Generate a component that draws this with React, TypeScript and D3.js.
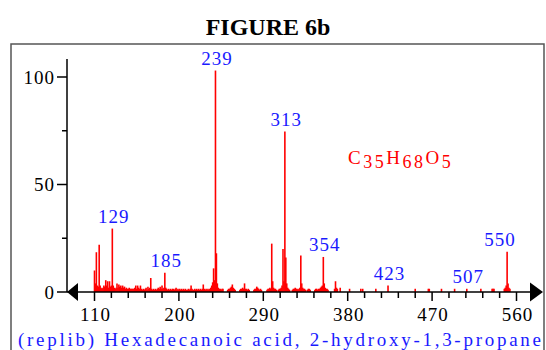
import React from "react";
import * as d3 from "d3";

const peakMz: number[] = [
  110, 111, 112, 113, 114, 115, 116, 117, 118, 119, 120, 121, 122, 123, 124, 125, 126, 127, 128, 129, 130, 131, 132,
  133, 134, 135, 136, 137, 138, 139, 140, 141, 142, 143, 144, 145, 146, 147, 148, 149, 150, 151, 152, 153, 154, 155, 156, 157, 158, 159, 160,
  161, 162, 163, 164, 165, 166, 167, 168, 169, 170, 171, 172, 173, 174, 175, 176, 177, 178, 179, 180, 181, 182, 183, 184, 185, 186, 187, 188, 189, 190, 191, 192, 193, 194, 195, 196, 197, 198, 199, 200,
  201, 202, 203, 204, 205, 206, 207, 208, 209, 210, 211, 212, 213, 214, 215, 216, 217, 218, 219, 220, 221, 222, 223, 224, 225, 226, 227, 228, 229, 230, 231, 232, 233, 234, 235, 236, 237, 238, 239, 240, 241, 242, 243, 244, 245, 246,
  247, 252, 253, 254, 255, 256, 257, 258, 259, 260, 265, 266, 267, 268, 269, 270, 271, 272, 273, 274, 275, 280, 281, 282, 283, 284, 285, 286, 287, 288,
  294, 295, 296, 297, 298, 299, 300, 301, 302, 303, 304, 306, 307, 308, 309, 310, 311, 312, 313, 314, 315, 316, 317, 318,
  321, 322, 323, 324, 325, 326, 327, 328, 329, 330, 331, 332, 333, 334, 335, 337, 338, 339, 340,
  345, 346, 347, 348, 349, 350, 351, 352, 353, 354, 355, 356, 357, 358, 359, 366, 367, 368, 369, 372,
  382, 394, 396, 410, 423, 452, 466, 467, 480, 494, 507, 522, 534, 535, 536, 547, 548, 549, 550, 551, 552, 553,
];

const peakIntensity: number[] = [
  10, 4, 18.5, 3, 2.5, 22, 3, 2, 1.5, 2, 3, 2.5, 5.5, 3, 5, 2, 5, 2.5, 3, 29.5, 3, 2, 1.5,
  2, 4, 2, 3.5, 2.5, 3, 2, 3, 2, 2.5, 1.5, 2, 1.5, 1.5, 2, 1.5, 1.5, 1.5, 1.5, 1.5, 2, 3, 1.5, 3, 2, 1.5, 3, 1.5,
  1, 1.5, 1, 1.5, 2, 1, 2.5, 1.5, 2, 6.5, 1.5, 1, 1.5, 1, 1.5, 1, 1.5, 2, 1.5, 2.5, 1.5, 3, 1.5, 2, 9, 2, 1.5, 1, 1.5, 1, 1.5, 1, 1.5, 1.5, 1, 1.5, 2, 1, 1.5, 1,
  1.5, 1, 1.5, 1, 1.5, 1, 1.5, 1, 1, 1.5, 1, 1.5, 3, 1.5, 1, 1, 1.5, 1, 1.5, 1, 1.5, 1, 1.5, 1, 1.5, 3.5, 1.5, 1, 1.5, 1, 1.5, 1, 1.5, 2, 3, 4.5, 11, 5.5, 103, 18, 4, 2, 1.5, 1.5, 1, 1.5,
  1.5, 1, 1.5, 1.5, 2, 2.5, 3.5, 2, 1.5, 1, 1, 1.5, 1.5, 2, 1.5, 4, 1.5, 1.5, 1, 1.5, 1, 1, 1.5, 1.5, 2.5, 2, 1.5, 1, 1.5, 1,
  1, 1.5, 1.5, 2, 1.5, 22.5, 5, 2, 1.5, 1.5, 1, 1, 1.5, 1.5, 2, 3, 20, 5, 74.6, 16, 4, 2, 1.5, 1,
  1, 1.5, 1.5, 2, 1.5, 1.5, 1, 1.5, 2, 17, 4, 2, 1.5, 1.5, 1, 1, 1.5, 1.5, 1,
  1, 1.5, 1.5, 1, 1.5, 1.5, 2, 2.5, 3, 16.3, 4, 2, 1.5, 1.5, 1, 1.5, 5, 2, 1.5, 2,
  1.5, 1.5, 1.5, 1.5, 3, 1.5, 1.5, 1.5, 1.5, 1.5, 1.5, 1.5, 1.5, 1.5, 1.5, 1.5, 2, 3, 18.7, 4, 2, 1.5,
];

const labeledMz: number[] = [129, 185, 239, 313, 354, 423, 507, 550];
const xTickValues: number[] = [110, 200, 290, 380, 470, 560];
const yTickValues: number[] = [0, 50, 100];
const yMinorTicks: number[] = [25, 75];
const titleText = "FIGURE 6b";
const compoundName = "(replib) Hexadecanoic acid, 2-hydroxy-1,3-propane";
const formulaParts: { t: string; sub: boolean }[] = [
  { t: "C", sub: false },
  { t: "35", sub: true },
  { t: "H", sub: false },
  { t: "68", sub: true },
  { t: "O", sub: false },
  { t: "5", sub: true },
];

const FONT = "Liberation Serif, Tinos, Times New Roman, Times, serif";

export default function App() {
  const x = d3.scaleLinear().domain([110, 560]).range([94.5, 516.5]);
  const y = d3.scaleLinear().domain([0, 100]).range([292, 77]);
  const axisX = 67;
  const baseY = y(0);
  const minorX = d3.range(110, 561, 18).filter((v) => !xTickValues.includes(v));

  const peaks = peakMz.map((m, i) => ({ m, v: peakIntensity[i] }));
  const lookup = new Map(peaks.map((p) => [p.m, p.v]));

  return (
    <svg
      width={546}
      height={350}
      style={{ position: "absolute", left: 0, top: 0, background: "#fff", fontFamily: FONT }}
    >
      <rect x={0} y={0} width={546} height={350} fill="#fff" />
      <text x={268} y={35} textAnchor="middle" fontSize={24} fontWeight="bold" fill="#000" style={{ fontFamily: FONT }}>
        {titleText}
      </text>
      {/* frame */}
      <path d="M11,360 L11,44 L544,44 L544,360" fill="none" stroke="#555" strokeWidth={1.5} />

      {/* peaks */}
      <g stroke="#ff0000" strokeWidth={1.6}>
        {peaks.map((p) => (
          <line key={p.m} x1={x(p.m)} x2={x(p.m)} y1={baseY} y2={y(p.v)} />
        ))}
      </g>

      {/* y axis */}
      <line x1={axisX} x2={axisX} y1={59} y2={baseY} stroke="#000" strokeWidth={1.5} />
      {yTickValues.map((t) => (
        <g key={t}>
          <line x1={axisX - 10} x2={axisX} y1={y(t)} y2={y(t)} stroke="#000" strokeWidth={1.5} />
          <text x={axisX - 12} y={y(t) + 6.5} textAnchor="end" fontSize={19} letterSpacing={1} fill="#000" style={{ fontFamily: FONT }}>
            {t}
          </text>
        </g>
      ))}
      {yMinorTicks.map((t) => (
        <line key={t} x1={axisX - 5} x2={axisX} y1={y(t)} y2={y(t)} stroke="#000" strokeWidth={1.5} />
      ))}

      {/* x axis */}
      <line x1={axisX} x2={540} y1={baseY} y2={baseY} stroke="#000" strokeWidth={1.5} />
      <path d={`M${axisX},${baseY} L${axisX + 11},${baseY - 9} L${axisX + 11},${baseY + 9} Z`} fill="#000" />
      <path d={`M543,${baseY} L530,${baseY - 9.5} L530,${baseY + 9.5} Z`} fill="#000" />
      {xTickValues.map((t) => (
        <g key={t}>
          <line x1={x(t)} x2={x(t)} y1={baseY} y2={baseY + 9} stroke="#000" strokeWidth={1.5} />
          <text x={x(t) + 1} y={320.5} textAnchor="middle" fontSize={19} letterSpacing={1} fill="#000" style={{ fontFamily: FONT }}>
            {t}
          </text>
        </g>
      ))}
      {minorX.map((t) => (
        <line key={t} x1={x(t)} x2={x(t)} y1={baseY} y2={baseY + 6} stroke="#000" strokeWidth={1.5} />
      ))}

      {/* peak labels */}
      {labeledMz.map((m) => {
        const v = lookup.get(m) ?? 0;
        const cx = Math.min(x(m) + 1.5, x(560) - 16.5);
        return (
          <text key={m} x={cx} y={y(v) - 6} textAnchor="middle" fontSize={19} letterSpacing={1} fill="#1a1aff" style={{ fontFamily: FONT }}>
            {m}
          </text>
        );
      })}

      {/* formula */}
      <text x={348} y={163.5} fontSize={19} fill="#ff0000" letterSpacing={2.5} style={{ fontFamily: FONT }}>
        {formulaParts.map((p, i) => (
          <tspan key={i} fontSize={p.sub ? 18 : 19} dy={i === 0 ? 0 : p.sub ? 4 : -4}>
            {p.t}
          </tspan>
        ))}
      </text>

      {/* compound name */}
      <text
        x={18}
        y={345.5}
        fontSize={19}
        fill="#1a1aff"
        textLength={523}
        lengthAdjust="spacing"
        style={{ fontFamily: FONT }}
      >
        {compoundName}
      </text>
    </svg>
  );
}
